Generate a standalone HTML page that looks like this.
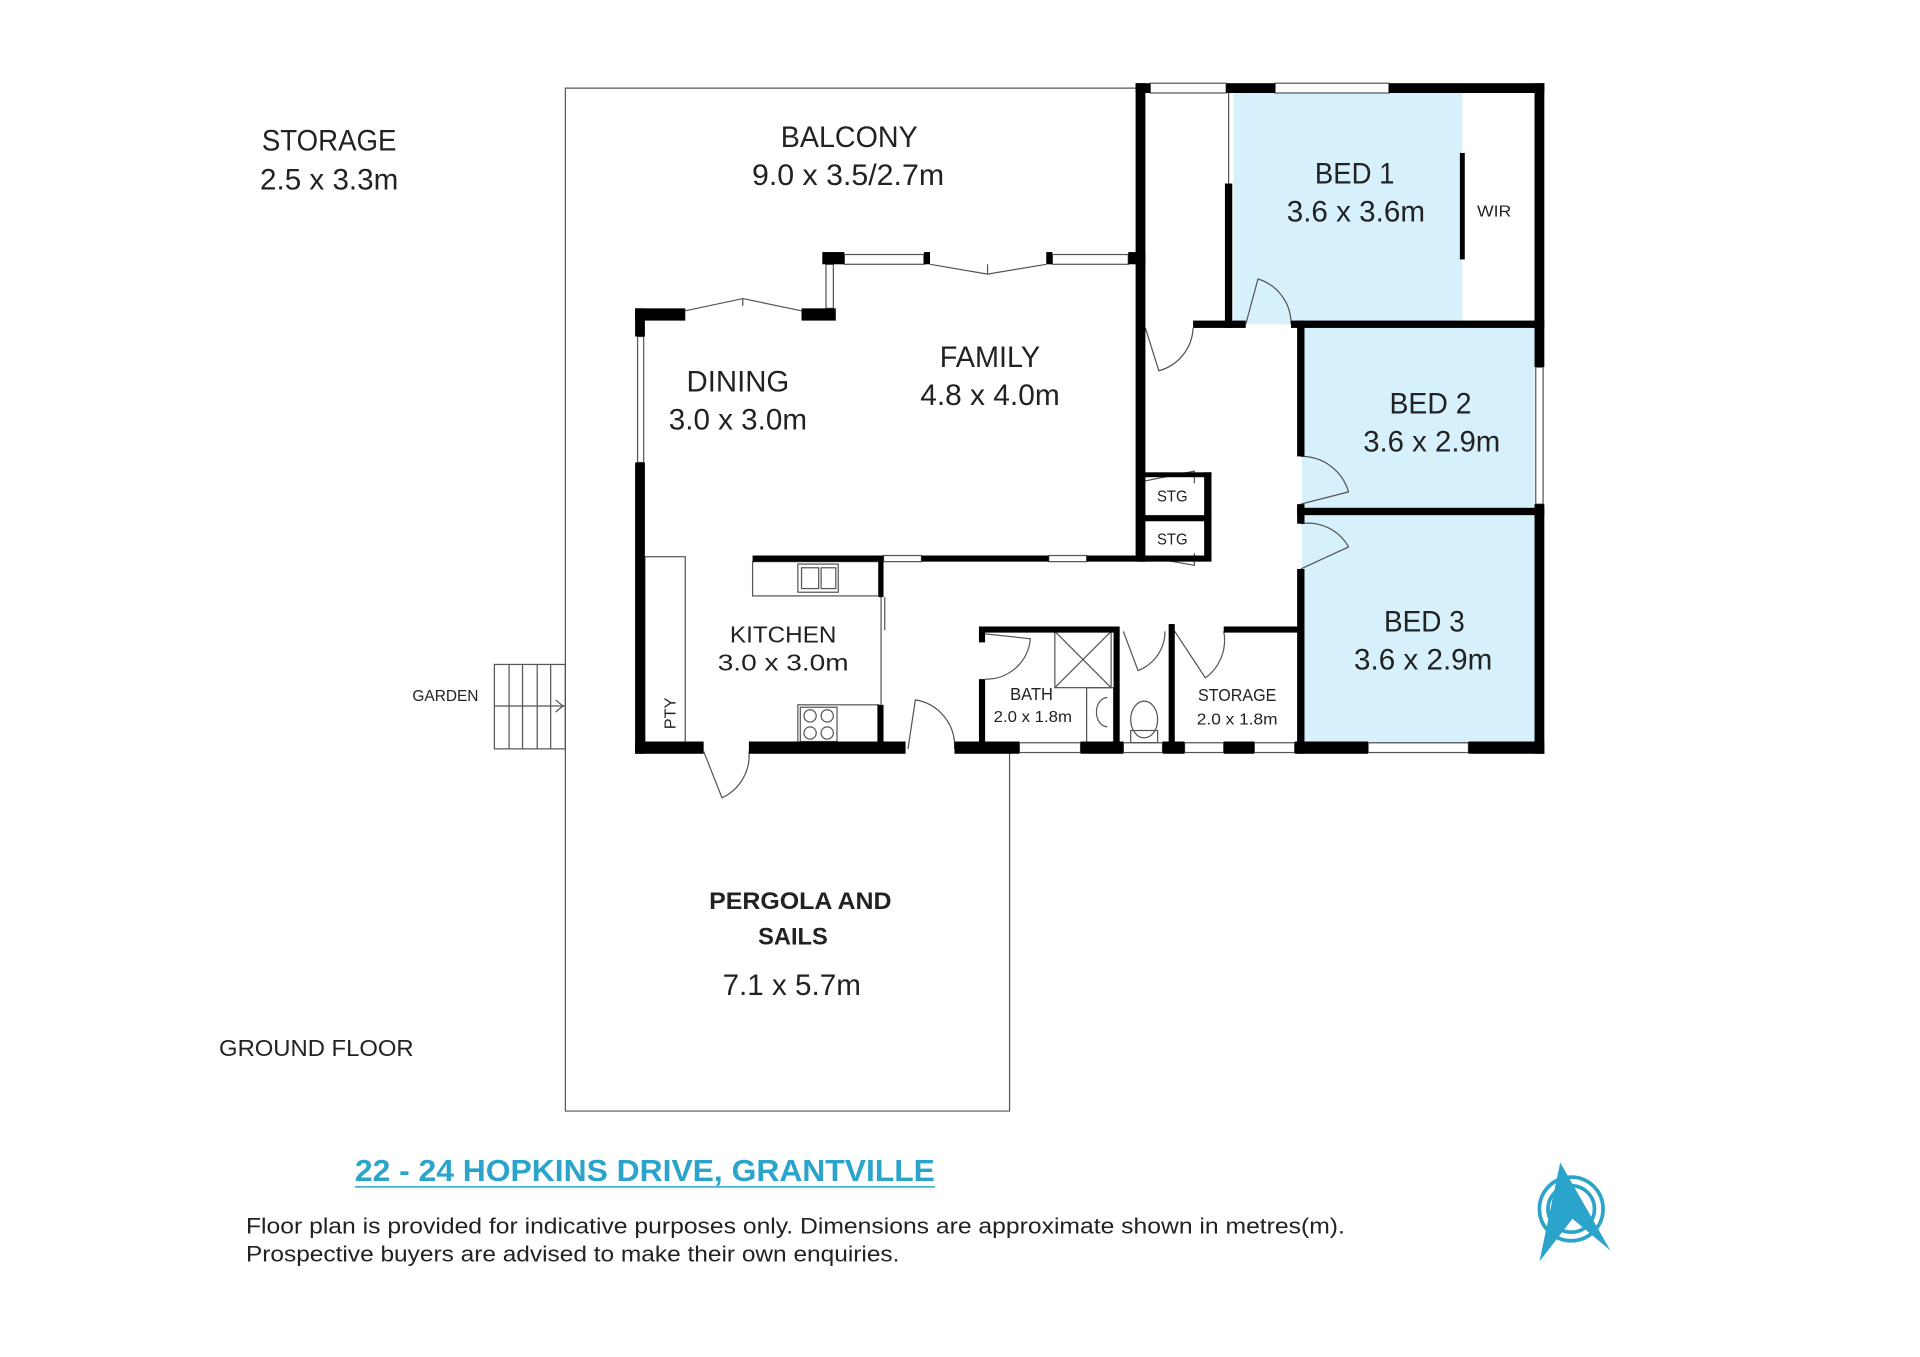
<!DOCTYPE html>
<html><head><meta charset="utf-8"><style>
html,body{margin:0;padding:0;background:#fff}
svg{display:block}
text{font-family:"Liberation Sans Narrow","Liberation Sans",sans-serif;fill:#222}
</style></head><body>
<svg width="1920" height="1357" viewBox="0 0 1569 1109" preserveAspectRatio="none" xmlns="http://www.w3.org/2000/svg">
<rect width="1569" height="1109" fill="#fff"/>
<g fill="#d6f1fb">
<rect x="1008" y="76" width="187" height="189"/>
<rect x="1064" y="268" width="190" height="149"/>
<rect x="1064" y="420" width="190" height="188"/>
</g>
<g fill="none" stroke="#555" stroke-width="1">
<polyline points="928,72 462,72 462,908 825,908 825,615"/>
<rect x="404" y="543" width="58" height="69"/>
<line x1="404" y1="577" x2="462" y2="577"/>
<line x1="416" y1="543" x2="416" y2="612"/><line x1="427" y1="543" x2="427" y2="612"/>
<line x1="439" y1="543" x2="439" y2="612"/><line x1="450" y1="543" x2="450" y2="612"/>
<polyline points="454,572 460,577 454,582"/>
<rect x="527" y="455" width="33" height="153"/>
<rect x="615" y="459" width="103" height="28"/>
<rect x="652" y="461" width="33" height="23"/><rect x="655" y="464" width="14" height="17"/><rect x="671" y="464" width="12" height="17"/>
<rect x="652" y="576" width="66" height="32"/><rect x="654" y="578" width="30" height="28"/>
<circle cx="662" cy="585" r="5"/><circle cx="676" cy="585" r="5"/><circle cx="662" cy="599" r="5"/><circle cx="676" cy="599" r="5"/>
<line x1="720" y1="488" x2="720" y2="576"/><line x1="723" y1="488" x2="723" y2="515"/>
<rect x="862" y="516" width="46" height="46"/><line x1="862" y1="516" x2="908" y2="562"/><line x1="908" y1="516" x2="862" y2="562"/>
<rect x="888" y="562" width="22" height="46"/><path d="M905,570 A9,12 0 0 0 905,594"/>
<ellipse cx="935" cy="588" rx="11" ry="15"/><rect x="924" y="597" width="22" height="10"/>
<path d="M805,518 L842,522 A36,36 0 0 1 805,555"/>
<path d="M918,516 L930,548 A34,34 0 0 0 952,516"/>
<path d="M960,516 L985,554 A38,38 0 0 0 1000,516"/>
<path d="M575,614 L590,652 A38,38 0 0 0 612,614"/>
<path d="M742,612 L748,572 A38,38 0 0 1 780,612"/>
<path d="M1063,373 A40,40 0 0 1 1102,402 L1063,412"/>
<path d="M1063,428 A38,38 0 0 1 1102,447 L1063,465"/>
<path d="M936,268 L947,303 A38,38 0 0 0 975,268"/>
<path d="M1018,265 L1028,228 A38,38 0 0 1 1055,265"/>
<path d="M936,393 L976,385 L976,395"/><path d="M936,455 L976,462 L976,452"/>
<polyline points="560,254 607,244 655,254"/><line x1="607" y1="244" x2="607" y2="250"/>
<polyline points="760,216 807,224 855,216"/><line x1="807" y1="216" x2="807" y2="224"/>
<rect x="690" y="208" width="65" height="8"/><rect x="860" y="208" width="62" height="8"/>
<rect x="675" y="216" width="6" height="36"/><rect x="521" y="275" width="5" height="103"/>
<rect x="940" y="68" width="62" height="8"/><rect x="1042" y="68" width="93" height="8"/>
<rect x="1255" y="300" width="6" height="112"/>
<rect x="722" y="454" width="31" height="5"/><rect x="857" y="454" width="31" height="5"/>
<rect x="833" y="607" width="50" height="8"/><rect x="918" y="607" width="32" height="8"/>
<rect x="968" y="607" width="32" height="8"/><rect x="1025" y="607" width="33" height="8"/><rect x="1118" y="607" width="82" height="8"/>
<line x1="1004" y1="76" x2="1004" y2="150"/>
</g>
<g fill="#000">
<rect x="519" y="252" width="41" height="10"/><rect x="519" y="252" width="8" height="23"/>
<rect x="519" y="378" width="8" height="238"/>
<rect x="655" y="252" width="28" height="10"/>
<rect x="672" y="206" width="18" height="10"/><rect x="755" y="206" width="5" height="10"/><rect x="855" y="206" width="5" height="10"/><rect x="922" y="206" width="14" height="10"/>
<rect x="928" y="68" width="8" height="391"/>
<rect x="928" y="68" width="12" height="8"/><rect x="1002" y="68" width="40" height="8"/><rect x="1135" y="68" width="127" height="8"/>
<rect x="1254" y="68" width="8" height="232"/><rect x="1254" y="412" width="8" height="204"/>
<rect x="1001" y="150" width="6" height="118"/>
<rect x="975" y="262" width="43" height="6"/><rect x="1055" y="262" width="207" height="6"/>
<rect x="1193" y="125" width="4" height="87"/>
<rect x="1060" y="262" width="6" height="111"/><rect x="1060" y="412" width="6" height="16"/><rect x="1060" y="465" width="6" height="151"/>
<rect x="1060" y="415" width="202" height="6"/>
<rect x="718" y="454" width="4" height="5"/><rect x="753" y="454" width="104" height="5"/><rect x="888" y="454" width="48" height="5"/>
<rect x="615" y="454" width="107" height="5"/><rect x="718" y="454" width="4" height="34"/><rect x="717" y="576" width="5" height="38"/>
<rect x="932" y="386" width="58" height="4"/><rect x="984" y="386" width="6" height="72"/><rect x="932" y="421" width="58" height="5"/><rect x="932" y="454" width="58" height="5"/>
<rect x="800" y="512" width="112" height="5"/><rect x="800" y="512" width="5" height="13"/><rect x="800" y="555" width="5" height="57"/>
<rect x="910" y="512" width="5" height="100"/><rect x="955" y="510" width="5" height="102"/>
<rect x="1000" y="512" width="63" height="5"/>
<rect x="519" y="606" width="56" height="10"/><rect x="612" y="606" width="128" height="10"/><rect x="780" y="606" width="53" height="10"/>
<rect x="883" y="606" width="35" height="10"/><rect x="950" y="606" width="18" height="10"/><rect x="1000" y="606" width="25" height="10"/>
<rect x="1058" y="606" width="60" height="10"/><rect x="1200" y="606" width="62" height="10"/>
</g>
<g text-anchor="middle" font-size="24">
<text x="269" y="123" textLength="110" lengthAdjust="spacingAndGlyphs">STORAGE</text>
<text x="269" y="155" textLength="113" lengthAdjust="spacingAndGlyphs">2.5 x 3.3m</text>
<text x="694" y="120" textLength="112" lengthAdjust="spacingAndGlyphs">BALCONY</text>
<text x="693" y="151" textLength="157" lengthAdjust="spacingAndGlyphs">9.0 x 3.5/2.7m</text>
<text x="1107" y="150" textLength="65" lengthAdjust="spacingAndGlyphs">BED 1</text>
<text x="1108" y="181" textLength="113" lengthAdjust="spacingAndGlyphs">3.6 x 3.6m</text>
<text x="809" y="300" textLength="82" lengthAdjust="spacingAndGlyphs">FAMILY</text>
<text x="809" y="331" textLength="114" lengthAdjust="spacingAndGlyphs">4.8 x 4.0m</text>
<text x="603" y="320" textLength="84" lengthAdjust="spacingAndGlyphs">DINING</text>
<text x="603" y="351" textLength="113" lengthAdjust="spacingAndGlyphs">3.0 x 3.0m</text>
<text x="1169" y="338" textLength="67" lengthAdjust="spacingAndGlyphs">BED 2</text>
<text x="1170" y="369" textLength="112" lengthAdjust="spacingAndGlyphs">3.6 x 2.9m</text>
<text x="1164" y="516" textLength="66" lengthAdjust="spacingAndGlyphs">BED 3</text>
<text x="1163" y="547" textLength="113" lengthAdjust="spacingAndGlyphs">3.6 x 2.9m</text>
<text x="647" y="813" textLength="113" lengthAdjust="spacingAndGlyphs">7.1 x 5.7m</text>
</g>
<g text-anchor="middle">
<text x="640" y="525" font-size="19" textLength="87" lengthAdjust="spacingAndGlyphs">KITCHEN</text>
<text x="640" y="548" font-size="19" textLength="107" lengthAdjust="spacingAndGlyphs">3.0 x 3.0m</text>
<text x="654" y="743" font-size="20" font-weight="bold" textLength="149" lengthAdjust="spacingAndGlyphs">PERGOLA AND</text>
<text x="648" y="772" font-size="20" font-weight="bold" textLength="57" lengthAdjust="spacingAndGlyphs">SAILS</text>
<text x="1221" y="177" font-size="13" textLength="28" lengthAdjust="spacingAndGlyphs">WIR</text>
<text x="958" y="410" font-size="13" textLength="25" lengthAdjust="spacingAndGlyphs">STG</text>
<text x="958" y="445" font-size="13" textLength="25" lengthAdjust="spacingAndGlyphs">STG</text>
<text x="843" y="572" font-size="14" textLength="35" lengthAdjust="spacingAndGlyphs">BATH</text>
<text x="844" y="590" font-size="13" textLength="64" lengthAdjust="spacingAndGlyphs">2.0 x 1.8m</text>
<text x="1011" y="573" font-size="14" textLength="64" lengthAdjust="spacingAndGlyphs">STORAGE</text>
<text x="1011" y="592" font-size="13" textLength="66" lengthAdjust="spacingAndGlyphs">2.0 x 1.8m</text>
<text x="364" y="573" font-size="13" textLength="54" lengthAdjust="spacingAndGlyphs">GARDEN</text>
</g>
<text x="552" y="583" font-size="13" text-anchor="middle" transform="rotate(-90 552 583)" textLength="26" lengthAdjust="spacingAndGlyphs">PTY</text>
<text x="179" y="863" font-size="19" textLength="159" lengthAdjust="spacingAndGlyphs">GROUND FLOOR</text>
<text x="290" y="965" font-size="25" font-weight="bold" style="fill:#2ba4cb" textLength="474" lengthAdjust="spacingAndGlyphs">22 - 24 HOPKINS DRIVE, GRANTVILLE</text>
<line x1="290" y1="970" x2="764" y2="970" stroke="#2ba4cb" stroke-width="1.2"/>
<text x="201" y="1008" font-size="18" textLength="898" lengthAdjust="spacingAndGlyphs">Floor plan is provided for indicative purposes only.  Dimensions are approximate shown in metres(m).</text>
<text x="201" y="1031" font-size="18" textLength="534" lengthAdjust="spacingAndGlyphs">Prospective buyers are advised to make their own enquiries.</text>
<g fill="none" stroke="#2ba4cb" stroke-width="3">
<circle cx="1284" cy="988" r="26"/><circle cx="1284" cy="988" r="19"/>
</g>
<polygon points="1275,950 1316,1022 1285,996 1258,1031" fill="#2ba4cb"/>
</svg>
</body></html>
